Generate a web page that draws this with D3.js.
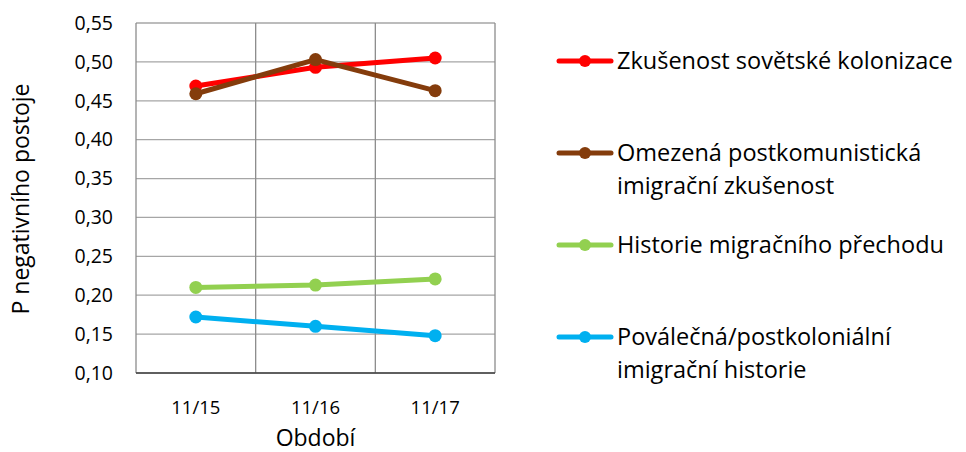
<!DOCTYPE html>
<html>
<head>
<meta charset="utf-8">
<script src="https://cdn.jsdelivr.net/npm/d3@7"></script>
<style>
body { margin: 0; background: #fff; }
text { font-family: "Open Sans", sans-serif; fill: #000; }
</style>
</head>
<body>
<script>
var periods = ["11/15", "11/16", "11/17"];
var yTicks = [0.10, 0.15, 0.20, 0.25, 0.30, 0.35, 0.40, 0.45, 0.50, 0.55];

var soviet = [0.469, 0.493, 0.505];
var postcom = [0.459, 0.503, 0.463];
var transit = [0.210, 0.213, 0.221];
var postwar = [0.172, 0.160, 0.148];

var seriesNames = [
	["Zkušenost sovětské kolonizace"],
	["Omezená postkomunistická", "imigrační zkušenost"],
	["Historie migračního přechodu"],
	["Poválečná/postkoloniální", "imigrační historie"]
];
var seriesColors = ["#ff0000", "#843c0c", "#92d050", "#00b0f0"];
var seriesValues = [soviet, postcom, transit, postwar];

(function(){
	var svg = d3.select("body")
			.append("svg")
			.attr("width", 966)
			.attr("height", 452);

	var pLeft = 136, pRight = 495, pTop = 23, pBottom = 373;

	var x = d3.scaleBand()
			.domain(periods)
			.range([pLeft, pRight]);

	var y = d3.scaleLinear()
			.domain([0.10, 0.55])
			.range([pBottom, pTop]);

	// horizontal grid
	svg.append("g")
			.selectAll("line")
			.data(yTicks)
			.enter()
			.append("line")
			.attr("x1", pLeft)
			.attr("x2", pRight)
			.attr("y1", function(d) { return y(d); })
			.attr("y2", function(d) { return y(d); })
			.attr("stroke", "#a6a6a6")
			.attr("stroke-width", 1.3);

	// vertical grid at band edges
	var edges = periods.map(function(p) { return x(p); }).concat([pRight]);
	svg.append("g")
			.selectAll("line")
			.data(edges)
			.enter()
			.append("line")
			.attr("x1", function(d) { return d; })
			.attr("x2", function(d) { return d; })
			.attr("y1", pTop)
			.attr("y2", pBottom)
			.attr("stroke", "#8c8c8c")
			.attr("stroke-width", 1.3);

	// bottom axis line
	svg.append("line")
			.attr("x1", pLeft)
			.attr("x2", pRight)
			.attr("y1", pBottom)
			.attr("y2", pBottom)
			.attr("stroke", "#404040")
			.attr("stroke-width", 1.5);

	// y tick labels
	var fmt = function(d) { return d3.format(".2f")(d).replace(".", ","); };
	svg.append("g")
			.selectAll("text")
			.data(yTicks)
			.enter()
			.append("text")
			.attr("x", 113)
			.attr("y", function(d) { return y(d); })
			.attr("dy", "0.35em")
			.attr("text-anchor", "end")
			.style("font-size", "19.5px")
			.text(fmt);

	// x tick labels
	svg.append("g")
			.selectAll("text")
			.data(periods)
			.enter()
			.append("text")
			.attr("x", function(d) { return x(d) + x.bandwidth() / 2; })
			.attr("y", 408)
			.attr("dy", "0.35em")
			.attr("text-anchor", "middle")
			.style("font-size", "18.5px")
			.text(function(d) { return d; });

	svg.append("text")
			.attr("x", (pLeft + pRight) / 2)
			.attr("y", 438)
			.attr("dy", "0.35em")
			.attr("text-anchor", "middle")
			.style("font-size", "23px")
			.text("Období");

	svg.append("text")
			.attr("transform", "translate(21,199) rotate(-90)")
			.attr("dy", "0.35em")
			.attr("text-anchor", "middle")
			.style("font-size", "23px")
			.text("P negativního postoje");

	var line = d3.line()
			.x(function(d, i) { return x(periods[i]) + x.bandwidth() / 2; })
			.y(function(d) { return y(d); });

	seriesValues.forEach(function(vals, s) {
		var g = svg.append("g");
		g.append("path")
				.attr("d", line(vals))
				.attr("fill", "none")
				.attr("stroke", seriesColors[s])
				.attr("stroke-width", 5)
				.attr("stroke-linecap", "round")
				.attr("stroke-linejoin", "round");
		g.selectAll("circle")
				.data(vals)
				.enter()
				.append("circle")
				.attr("cx", function(d, i) { return x(periods[i]) + x.bandwidth() / 2; })
				.attr("cy", function(d) { return y(d); })
				.attr("r", 6.5)
				.attr("fill", seriesColors[s]);
	});

	// legend
	var legendY = [61, 153, 245, 337];
	seriesNames.forEach(function(lines, s) {
		var g = svg.append("g")
				.attr("transform", "translate(0," + legendY[s] + ")");
		g.append("line")
				.attr("x1", 559)
				.attr("x2", 611)
				.attr("stroke", seriesColors[s])
				.attr("stroke-width", 5)
				.attr("stroke-linecap", "round");
		g.append("circle")
				.attr("cx", 585)
				.attr("r", 6)
				.attr("fill", seriesColors[s]);
		lines.forEach(function(t, k) {
			g.append("text")
					.attr("x", 617)
					.attr("y", k * 33)
					.attr("dy", "0.35em")
					.style("font-size", "23.5px")
					.text(t);
		});
	});
})();
</script>
</body>
</html>
